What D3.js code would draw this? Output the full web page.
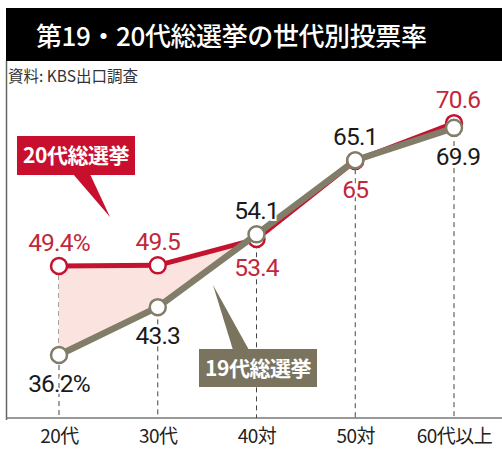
<!DOCTYPE html>
<html>
<head>
<meta charset="utf-8">
<script src="https://cdn.jsdelivr.net/npm/d3@7"></script>
<style>
  body { margin: 0; background: #fff; }
  text { font-family: "Noto Sans CJK JP", "Noto Sans", sans-serif; }
  .num { font-family: Roboto, "Liberation Sans", sans-serif; font-size: 24.5px; font-weight: 400; letter-spacing: -0.8px; }
</style>
</head>
<body>
<script>
var w = 502;
var h = 450;

// data
var ages = ["20代", "30代", "40対", "50対", "60代以上"];
var vote20 = [49.4, 49.5, 53.4, 65, 70.6];
var vote19 = [36.2, 43.3, 54.1, 65.1, 69.9];
var labels20 = ["49.4%", "49.5", "53.4", "65", "70.6"];
var labels19 = ["36.2%", "43.3", "54.1", "65.1", "69.9"];
// which side of the point the label sits on (-1 above, 1 below)
var side20 = [-1, -1, 1, 1, -1];
var side19 = [1, 1, -1, -1, 1];

var red = "#c4122f";
var olive = "#827d68";

var svg = d3.select("body").append("svg")
    .attr("width", w)
    .attr("height", h);

//Title bar
svg.append("rect")
    .attr("x", 6).attr("y", 8)
    .attr("width", w - 6).attr("height", 53)
    .attr("fill", "#000");
svg.append("text")
    .attr("x", 36).attr("y", 46)
    .attr("fill", "#fff")
    .attr("font-size", "26px")
    .attr("font-weight", 500)
    .attr("letter-spacing", "-0.4px")
    .text("第19・20代総選挙の世代別投票率");

svg.append("text")
    .attr("x", 8).attr("y", 82)
    .attr("fill", "#333")
    .attr("font-size", "15.5px")
    .text("資料: KBS出口調査");

// left border
svg.append("line")
    .attr("x1", 6.5).attr("x2", 6.5)
    .attr("y1", 61).attr("y2", 420)
    .attr("stroke", "#666").attr("stroke-width", 1.5);

//Scales
var xScale = d3.scalePoint()
    .domain(ages)
    .range([59, 454]);

var yScale = d3.scaleLinear()
    .domain([30, 70])
    .range([396.8, 127.2]);

var axisY = 418;

var xAxis = d3.axisBottom(xScale).tickSize(0).tickPadding(12);

var gx = svg.append("g")
    .attr("transform", "translate(0," + axisY + ")")
    .call(xAxis);
gx.select(".domain").remove();
gx.selectAll("text")
    .attr("font-size", "19px")
    .attr("fill", "#222")
    .attr("letter-spacing", "-0.5px")
    .style("font-family", "'Noto Sans CJK JP', sans-serif");

svg.append("line")
    .attr("x1", 6).attr("x2", w)
    .attr("y1", axisY).attr("y2", axisY)
    .attr("stroke", "#777").attr("stroke-width", 1.5);

//Dashed drop lines
svg.append("g").selectAll("line")
    .data(ages)
    .enter()
    .append("line")
    .attr("x1", function(d) { return xScale(d); })
    .attr("x2", function(d) { return xScale(d); })
    .attr("y1", function(d, i) { return yScale(Math.max(vote20[i], vote19[i])); })
    .attr("y2", axisY)
    .attr("stroke", "#444")
    .attr("stroke-width", 1)
    .attr("stroke-dasharray", "5,4");

//Shaded gap between the two lines, up to where they cross
var x1 = xScale(ages[1]), x2 = xScale(ages[2]);
var a1 = vote20[1] - vote19[1], a2 = vote20[2] - vote19[2];
var t = a1 / (a1 - a2);
var crossX = x1 + (x2 - x1) * t;
var crossV = vote20[1] + (vote20[2] - vote20[1]) * t;
var gapPts = [
    [xScale(ages[0]), vote20[0], vote19[0]],
    [xScale(ages[1]), vote20[1], vote19[1]],
    [crossX, crossV, crossV]
];
svg.append("path")
    .datum(gapPts)
    .attr("fill", "#fbe4df")
    .attr("d", d3.area()
        .x(function(d) { return d[0]; })
        .y0(function(d) { return yScale(d[2]); })
        .y1(function(d) { return yScale(d[1]); }));

var line = d3.line()
    .x(function(d, i) { return xScale(ages[i]); })
    .y(function(d) { return yScale(d); });

function drawSeries(vals, color, width) {
    svg.append("path")
        .datum(vals)
        .attr("fill", "none")
        .attr("stroke", color)
        .attr("stroke-width", width)
        .attr("stroke-linejoin", "round")
        .attr("d", line);
}

function drawDots(vals, color) {
    svg.append("g").selectAll("circle")
        .data(vals)
        .enter()
        .append("circle")
        .attr("cx", function(d, i) { return xScale(ages[i]); })
        .attr("cy", function(d) { return yScale(d); })
        .attr("r", 8)
        .attr("fill", "#fff")
        .attr("stroke", color)
        .attr("stroke-width", 2.5);
}

drawSeries(vote20, red, 5);
drawDots(vote20, red);
drawSeries(vote19, olive, 6.5);
drawDots(vote19, olive);

function drawLabels(vals, labels, sides, color) {
    svg.append("g").selectAll("text")
        .data(vals)
        .enter()
        .append("text")
        .attr("class", "num")
        .attr("x", function(d, i) { return xScale(ages[i]) + (i == 4 ? 4 : 0); })
        .attr("y", function(d, i) { return yScale(d) + (sides[i] < 0 ? -15 : 37); })
        .attr("text-anchor", "middle")
        .attr("fill", color)
        .attr("stroke", "#fff")
        .attr("stroke-width", 4)
        .attr("paint-order", "stroke")
        .text(function(d, i) { return labels[i]; });
}

drawLabels(vote20, labels20, side20, "#c0283c");
drawLabels(vote19, labels19, side19, "#1a1a1a");

//Callouts
function callout(x, y, bw, bh, tip, base, color, txt) {
    var g = svg.append("g");
    g.append("path")
        .attr("d", "M" + base[0] + "," + base[1] + "L" + tip[0] + "," + tip[1] + "L" + base[2] + "," + base[3] + "Z")
        .attr("fill", color);
    g.append("rect")
        .attr("x", x).attr("y", y)
        .attr("width", bw).attr("height", bh)
        .attr("fill", color);
    g.append("text")
        .attr("x", x + bw / 2).attr("y", y + bh / 2 + 7.5)
        .attr("text-anchor", "middle")
        .attr("fill", "#fff")
        .attr("font-size", "21px")
        .attr("font-weight", 700)
        .attr("letter-spacing", "-0.5px")
        .text(txt);
}

callout(17, 136, 118, 39, [110, 217], [73, 174, 90, 174], "#c8102e", "20代総選挙");
callout(199, 349, 118, 38, [213, 285], [233, 350, 249, 350], "#7a745f", "19代総選挙");
</script>
</body>
</html>
